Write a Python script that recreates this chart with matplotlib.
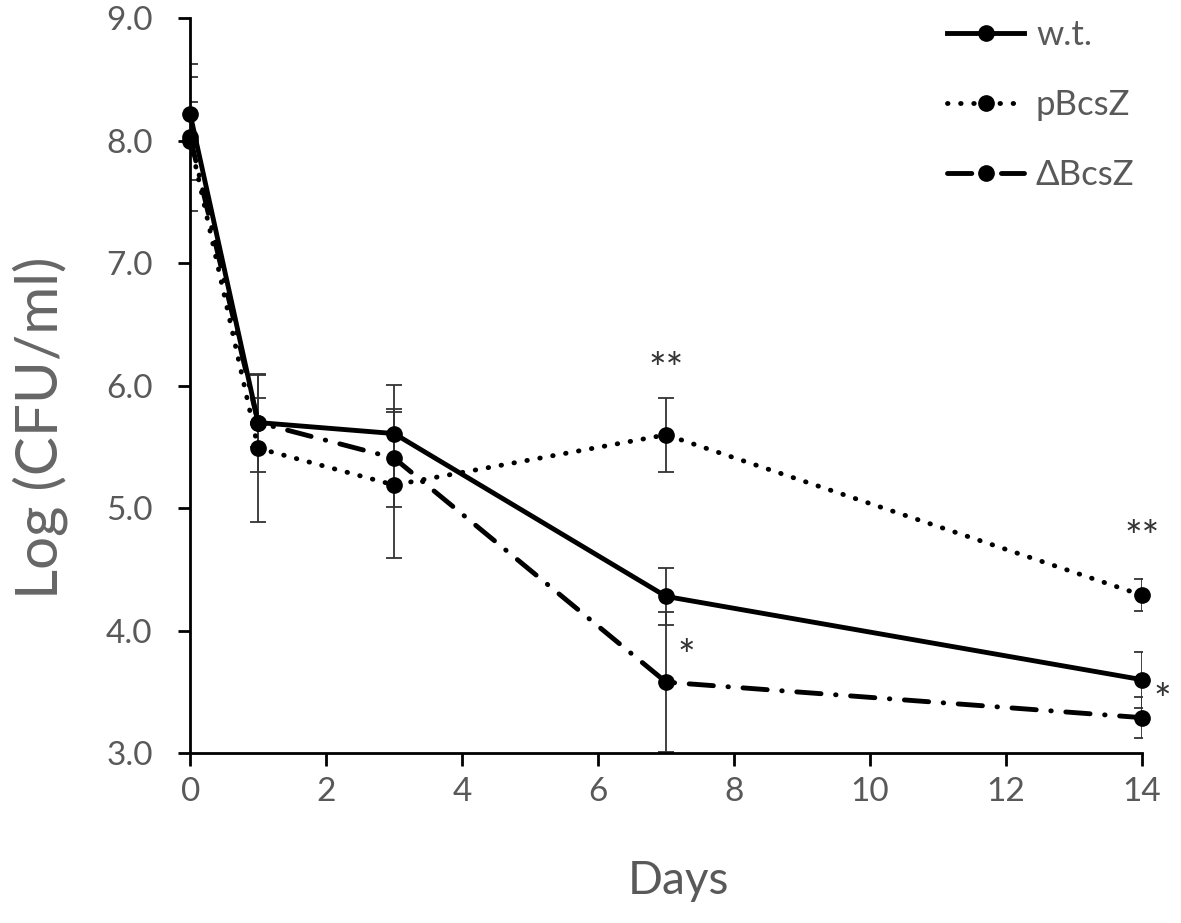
import numpy as np
import matplotlib.pyplot as plt

# Data
days = [0, 1, 3, 7, 14]
wt = [8.22, 5.70, 5.61, 4.28, 3.60]
wt_err = [0.30, 0.40, 0.40, 0.23, 0.23]
pbcsz = [8.00, 5.49, 5.19, 5.60, 4.29]
pbcsz_err = [0.32, 0.60, 0.60, 0.30, 0.13]
dbcsz = [8.03, 5.70, 5.41, 3.58, 3.29]
dbcsz_err = [0.60, 0.20, 0.40, 0.57, 0.17]

# significance marks: (x, y, text)
stars = [(7.0, 6.12, "**"), (14.0, 4.75, "**"), (7.3, 3.78, "*"), (14.3, 3.42, "*")]

plt.rcParams['font.family'] = ['Lato', 'DejaVu Sans']
grey = "#595959"

fig = plt.figure(figsize=(11.81, 9.23), dpi=100)
ax = fig.add_axes([0.161, 0.184, 0.806, 0.796])

styles = [
    ("w.t.", wt, wt_err, "-"),
    ("pBcsZ", pbcsz, pbcsz_err, (0, (0.1, 2.6))),
    ("\u0394BcsZ", dbcsz, dbcsz_err, (0, (5.0, 3.0, 0.1, 3.0))),
]

for label, vals, err, ls in styles:
    ax.errorbar(days, vals, yerr=err, fmt="none", ecolor="#333333",
                elinewidth=1.3, capsize=6, capthick=1.3, zorder=2)
    ax.plot(days, vals, color="black", linestyle=ls, linewidth=3.5,
            dash_capstyle="round", marker="o", markersize=11,
            label=label, clip_on=False, zorder=3)

for x, y, t in stars:
    ax.text(x, y, t, ha="center", va="center", fontsize=30, color="#333333")

ax.set_xlim(0, 14)
ax.set_ylim(3.0, 9.0)
ax.set_xticks(np.arange(0, 15, 2))
ax.set_yticks(np.arange(3.0, 9.5, 1.0))
ax.set_yticklabels([f"{v:.1f}" for v in np.arange(3.0, 9.5, 1.0)])

for side in ["top", "right"]:
    ax.spines[side].set_visible(False)
for side in ["left", "bottom"]:
    ax.spines[side].set_linewidth(2)
    ax.spines[side].set_color("black")

ax.tick_params(direction="out", length=9, width=2, color="black",
               labelsize=24, labelcolor=grey)
ax.tick_params(axis="y", pad=18)
ax.tick_params(axis="x", pad=8)

ax.set_xlabel("Days", fontsize=33, color=grey)
ax.set_ylabel("Log (CFU/ml)", fontsize=42, color="#666666")
ax.xaxis.set_label_coords(0.513, -0.145)
ax.yaxis.set_label_coords(-0.128, 0.443)

leg = ax.legend(loc="upper right", bbox_to_anchor=(1.025, 1.042), frameon=False,
                fontsize=25, handlelength=2.2, labelspacing=1.1,
                handletextpad=0.35, labelcolor=grey)

fig.savefig("out.png", dpi=100)
